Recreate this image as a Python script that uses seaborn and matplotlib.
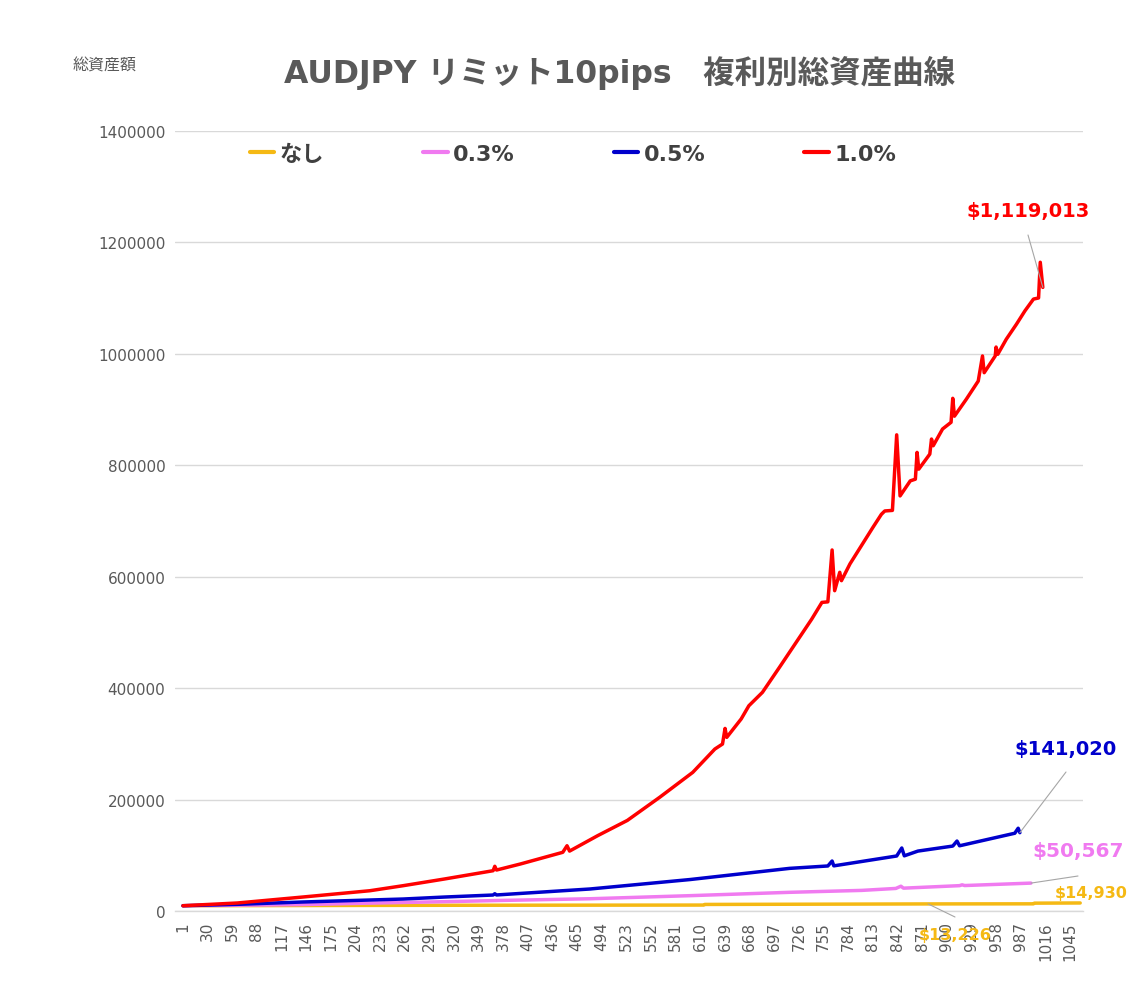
import matplotlib
matplotlib.use("Agg")
import matplotlib.pyplot as plt
from matplotlib.font_manager import FontProperties
import seaborn as sns
import pandas as pd

# ---------------- data ----------------
series_names = ["なし", "0.3%", "0.5%", "1.0%"]
series_colors = ["#F5B914", "#F07AF0", "#0000CC", "#FF0000"]

none_x = [1, 300, 614, 615, 878, 1002, 1003, 1057]
none_y = [10000, 10800, 11200, 12300, 13226, 13400, 14600, 14930]

p03_x = [1, 141, 200, 317, 376, 480, 597, 714, 800, 840, 846, 849, 915, 918, 921, 999]
p03_y = [10000, 12000, 14000, 17500, 19500, 22500, 28000, 34000, 37500, 41000,
         45000, 41500, 46000, 47500, 46200, 50567]

p05_x = [1, 65, 142, 260, 309, 366, 368, 370, 480, 598, 715, 760, 765, 767,
         841, 847, 850, 866, 907, 912, 915, 980, 984, 986]
p05_y = [10000, 12500, 16700, 22000, 25600, 29200, 31500, 29300, 40000, 57000,
         77000, 81300, 90200, 81500, 99200, 113500, 99500, 108000, 117000, 126000,
         117500, 140000, 149000, 141020]

p10_x = [1, 65, 142, 221, 260, 309, 366, 368, 370, 398, 448, 453, 456, 489, 524,
         562, 601, 627, 636, 639, 641, 658, 667, 683, 703, 741, 753, 760, 765, 768,
         774, 776, 786, 813, 823, 827, 836, 841, 845, 857, 863, 865, 867, 880, 882,
         884, 895, 905, 907, 909, 923, 937, 942, 944, 957, 958, 960, 970, 982, 992,
         1002, 1008, 1010, 1013]
p10_y = [10000, 14900, 25600, 36900, 45900, 58000, 72800, 80700, 74000, 84800,
         105800, 117600, 108000, 135600, 163000, 204400, 249200, 291000, 300000,
         328000, 312000, 345000, 368600, 392700, 437500, 524000, 554000, 555000,
         648000, 575000, 608000, 593000, 623000, 688500, 712000, 718000, 719000,
         854500, 745000, 772000, 775000, 823000, 793000, 820000, 847000, 835000,
         865000, 877000, 920000, 888000, 918500, 951000, 996000, 966000, 996000,
         1012000, 999000, 1026000, 1053000, 1077000, 1098000, 1100000, 1164000,
         1119013]

x_tick_labels = [1, 30, 59, 88, 117, 146, 175, 204, 233, 262, 291, 320, 349, 378,
                 407, 436, 465, 494, 523, 552, 581, 610, 639, 668, 697, 726, 755,
                 784, 813, 842, 871, 900, 929, 958, 987, 1016, 1045]
y_ticks = [0, 200000, 400000, 600000, 800000, 1000000, 1200000, 1400000]

title = "AUDJPY リミット10pips\u3000複利別総資産曲線"
y_label = "総資産額"

# ---------------- build table ----------------
frames = []
for name, xs, ys in zip(series_names, [none_x, p03_x, p05_x, p10_x],
                        [none_y, p03_y, p05_y, p10_y]):
    frames.append(pd.DataFrame({"trade": xs, "equity": ys, "series": name}))
df = pd.concat(frames, ignore_index=True)

# ---------------- plot ----------------
sns.set_theme(style="white")
plt.rcParams['font.family'] = ['Noto Sans CJK JP', 'DejaVu Sans']
mixed = ['DejaVu Sans', 'Noto Sans CJK JP']

W, H = 1133, 1003
fig = plt.figure(figsize=(W / 100, H / 100), dpi=100)
fig.patch.set_facecolor("white")
ax_l, ax_r, ax_t, ax_b = 175, 1083, 131.7, 912.3
ax = fig.add_axes([ax_l / W, 1 - ax_b / H, (ax_r - ax_l) / W, (ax_b - ax_t) / H])

sns.lineplot(data=df, x="trade", y="equity", hue="series", hue_order=series_names,
             palette=series_colors, estimator=None, sort=False, linewidth=2.5,
             ax=ax)

ax.set_xlim(-8.4, 1060.3)
ax.set_ylim(0, 1400000)
ax.set_xlabel("")
ax.set_ylabel("")
for s in ["top", "right", "left"]:
    ax.spines[s].set_visible(False)
ax.spines["bottom"].set_color("#D9D9D9")
ax.spines["bottom"].set_linewidth(1.0)
ax.yaxis.grid(True, color="#D9D9D9", linewidth=1.0)
ax.xaxis.grid(False)
ax.set_axisbelow(True)

ax.set_xticks(x_tick_labels)
ax.set_xticklabels([str(v) for v in x_tick_labels], rotation=90,
                   fontfamily="DejaVu Sans", fontsize=11, color="#595959")
ax.set_yticks(y_ticks)
ax.set_yticklabels([str(v) for v in y_ticks], fontfamily="DejaVu Sans",
                   fontsize=11, color="#595959")
ax.tick_params(axis="x", length=0, pad=7)
ax.tick_params(axis="y", length=0, pad=7)

# legend
handles, labels = ax.get_legend_handles_labels()
leg = ax.legend(handles, labels, loc="center", ncol=4, frameon=False,
                bbox_to_anchor=(573 / W, 1 - 155 / H), bbox_transform=fig.transFigure,
                prop=FontProperties(family=mixed, weight="bold", size=16),
                labelcolor="#404040", handlelength=1.1, handletextpad=0.25,
                columnspacing=4.45)
for ln in leg.get_lines():
    ln.set_linewidth(3.0)

# title and axis caption
fig.text(620 / W, 1 - 73 / H, title, ha="center", va="center", fontsize=22.7,
         fontweight="bold", color="#595959", family=mixed)
fig.text(105 / W, 1 - 66 / H, y_label, ha="center", va="center", fontsize=11.5,
         color="#595959")

# value labels with leader lines
lead = dict(arrowstyle="-", color="#A6A6A6", lw=0.8, shrinkA=0, shrinkB=0)


def fig_px(x, y):
    return (x, H - y)


ax.annotate("", xy=(p10_x[-1], p10_y[-1]), xytext=fig_px(1028, 236),
            textcoords="figure pixels", arrowprops=lead)
fig.text(1028 / W, 1 - 212 / H, "$1,119,013", ha="center", va="center",
         fontfamily="DejaVu Sans", fontweight="bold", fontsize=14,
         color=series_colors[3])

ax.annotate("", xy=(p05_x[-1], p05_y[-1]), xytext=fig_px(1066, 773),
            textcoords="figure pixels", arrowprops=lead)
fig.text(1066 / W, 1 - 750 / H, "$141,020", ha="center", va="center",
         fontfamily="DejaVu Sans", fontweight="bold", fontsize=14,
         color=series_colors[2])

ax.annotate("", xy=(p03_x[-1], p03_y[-1]), xytext=fig_px(1078, 877),
            textcoords="figure pixels", arrowprops=lead)
fig.text(1078 / W, 1 - 852 / H, "$50,567", ha="center", va="center",
         fontfamily="DejaVu Sans", fontweight="bold", fontsize=14.5,
         color=series_colors[1])

fig.text(1091 / W, 1 - 894 / H, "$14,930", ha="center", va="center",
         fontfamily="DejaVu Sans", fontweight="bold", fontsize=11.5,
         color=series_colors[0])

ax.annotate("", xy=(none_x[4], none_y[4]), xytext=fig_px(955, 918),
            textcoords="figure pixels", arrowprops=lead)
fig.text(955 / W, 1 - 936 / H, "$13,226", ha="center", va="center",
         fontfamily="DejaVu Sans", fontweight="bold", fontsize=11.5,
         color=series_colors[0])

fig.savefig("out.png", dpi=100, facecolor="white")
